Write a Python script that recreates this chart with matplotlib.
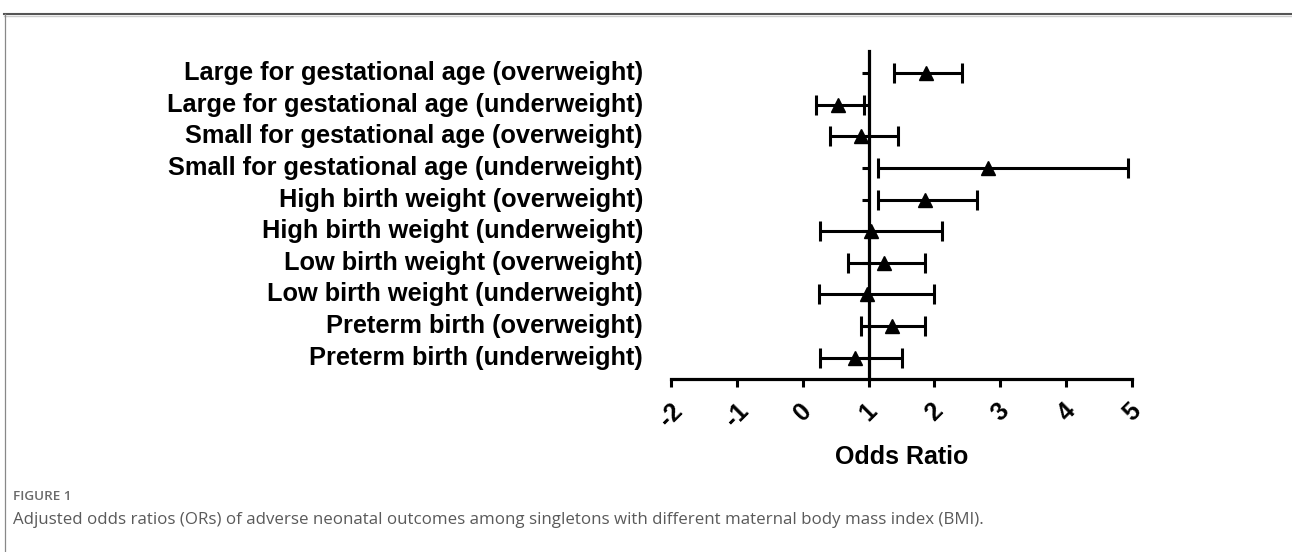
import matplotlib
matplotlib.use("Agg")
import matplotlib.pyplot as plt
from matplotlib.lines import Line2D
import numpy as np

# ---- data (top row first) ----
labels = [
    "Large for gestational age (overweight)",
    "Large for gestational age (underweight)",
    "Small for gestational age (overweight)",
    "Small for gestational age (underweight)",
    "High birth weight (overweight)",
    "High birth weight (underweight)",
    "Low birth weight (overweight)",
    "Low birth weight (underweight)",
    "Preterm birth (overweight)",
    "Preterm birth (underweight)",
]
odds_ratio = [1.87, 0.54, 0.88, 2.81, 1.85, 1.04, 1.23, 0.97, 1.35, 0.80]
ci_lower = [1.39, 0.21, 0.42, 1.14, 1.15, 0.27, 0.69, 0.25, 0.89, 0.26]
ci_upper = [2.41, 0.93, 1.44, 4.93, 2.65, 2.11, 1.86, 1.99, 1.86, 1.50]
x_ticks = [-2, -1, 0, 1, 2, 3, 4, 5]
x_ticklabels = ["-2", "-1", "0", "1", "2", "3", "4", "5"]
x_label = "Odds Ratio"
fig_label = "FIGURE 1"
caption = ("Adjusted odds ratios (ORs) of adverse neonatal outcomes among singletons "
           "with different maternal body mass index (BMI).")

W, H = 1292, 552
fig = plt.figure(figsize=(W / 100, H / 100), dpi=100)
ax = fig.add_axes([670.7 / W, 1 - 379 / H, 461.6 / W, (379 - 50.7) / H])

n = len(labels)
ypos = np.arange(n)[::-1]
orv = np.array(odds_ratio)
lo = np.array(ci_lower)
hi = np.array(ci_upper)

ax.errorbar(orv, ypos, xerr=[orv - lo, hi - orv], fmt="^", color="black",
            ms=10.5, elinewidth=2.2, capsize=7.5, capthick=2.2, zorder=3,
            clip_on=False)

ax.set_xlim(-2, 5)
ax.set_ylim(-0.674, 9.715)

for s in ("top", "right"):
    ax.spines[s].set_visible(False)
ax.spines["left"].set_position(("data", 1))
ax.spines["left"].set_linewidth(2.3)
ax.spines["bottom"].set_linewidth(2.3)

ax.set_yticks(ypos)
ax.set_yticklabels([])
ax.tick_params(axis="y", direction="out", length=5, width=2.2)

ax.set_xticks(x_ticks)
ax.set_xticklabels(x_ticklabels, rotation=45, fontsize=18, fontweight="bold",
                   family="Liberation Sans")
ax.tick_params(axis="x", direction="out", length=6, width=2.2, pad=8)
ax.set_xlabel(x_label, fontsize=18, fontweight="bold", family="Liberation Sans",
              labelpad=10)

ytr = ax.get_yaxis_transform()
for lab, yy in zip(labels, ypos):
    ax.text(-0.06, yy, lab, transform=ytr, ha="right", va="center",
            fontsize=18.3, fontweight="bold", family="Liberation Sans")

# page frame
fig.add_artist(Line2D([4 / W, 1], [1 - 13.5 / H, 1 - 13.5 / H],
                      transform=fig.transFigure, color="#555555", lw=1.5))
fig.add_artist(Line2D([4 / W, 1], [1 - 15.5 / H, 1 - 15.5 / H],
                      transform=fig.transFigure, color="#cccccc", lw=1.0))
fig.add_artist(Line2D([4.5 / W, 4.5 / W], [0, 1 - 13.5 / H],
                      transform=fig.transFigure, color="#888888", lw=0.9))

fig.text(13 / W, 1 - 497 / H, fig_label, fontsize=9.7, color="#6a6a6a",
         family="Open Sans", fontweight="semibold", va="center", ha="left")
fig.text(13 / W, 1 - 520 / H, caption, fontsize=12.2, color="#5a5a5a",
         family="Open Sans", va="center", ha="left")

fig.savefig("out.png", dpi=100)
